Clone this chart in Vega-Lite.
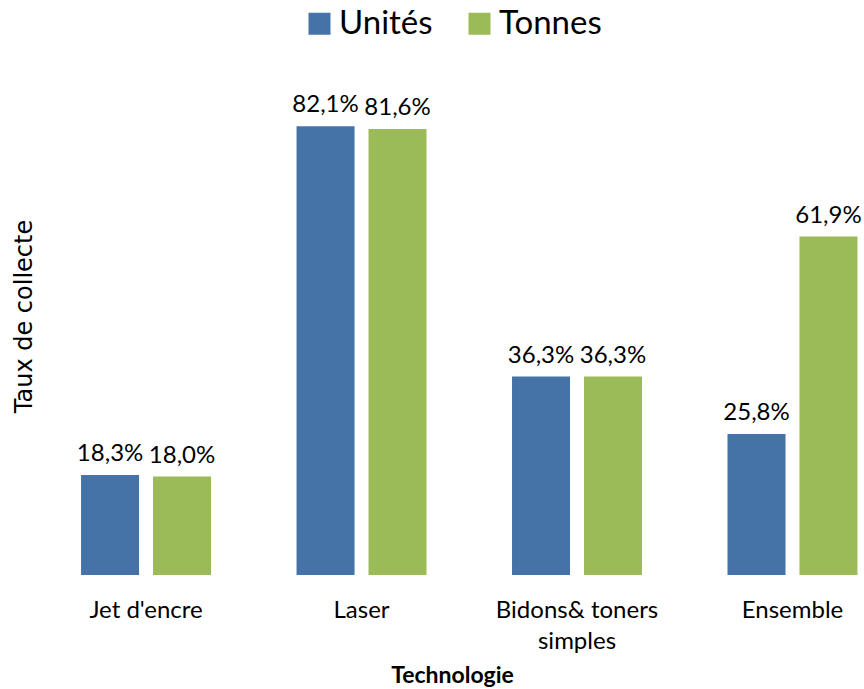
{
  "$schema": "https://vega.github.io/schema/vega-lite/v6.json",
  "width": 824,
  "height": 492,
  "autosize": {"type": "none"},
  "padding": {"left": 40, "top": 83, "right": 0, "bottom": 114},
  "background": "white",
  "data": {
    "values": [
      {"tech": "Jet d'encre", "serie": "Unités", "v": 0.183},
      {"tech": "Jet d'encre", "serie": "Tonnes", "v": 0.180},
      {"tech": "Laser", "serie": "Unités", "v": 0.821},
      {"tech": "Laser", "serie": "Tonnes", "v": 0.816},
      {"tech": "Bidons& toners\nsimples", "serie": "Unités", "v": 0.363},
      {"tech": "Bidons& toners\nsimples", "serie": "Tonnes", "v": 0.363},
      {"tech": "Ensemble", "serie": "Unités", "v": 0.258},
      {"tech": "Ensemble", "serie": "Tonnes", "v": 0.619}
    ]
  },
  "encoding": {
    "x": {
      "field": "tech",
      "type": "nominal",
      "sort": null,
      "title": "Technologie",
      "scale": {"paddingInner": 0.3968, "paddingOuter": 0.1104, "align": 0.863},
      "axis": {
        "ticks": false,
        "domain": false,
        "grid": false,
        "labelAngle": 0,
        "labelFont": "Lato",
        "labelFontSize": 24,
        "labelColor": "#000000",
        "labelPadding": 23,
        "labelLineHeight": 31,
        "labelLimit": 0,
        "labelExpr": "split(datum.label, '\\n')",
        "titleFont": "Lato",
        "titleFontSize": 23,
        "titleFontWeight": "bold",
        "titleColor": "#000000",
        "titlePadding": 11
      }
    },
    "xOffset": {
      "field": "serie",
      "type": "nominal",
      "sort": ["Unités", "Tonnes"],
      "scale": {"paddingInner": 0.194, "paddingOuter": 0}
    },
    "y": {
      "field": "v",
      "type": "quantitative",
      "title": "Taux de collecte",
      "scale": {"domain": [0, 0.9]},
      "axis": {
        "labels": false,
        "ticks": false,
        "domain": false,
        "grid": false,
        "minExtent": 0,
        "titleFont": "DejaVu Sans",
        "titleFontSize": 24,
        "titleFontWeight": "normal",
        "titleColor": "#000000",
        "titlePadding": 4,
        "titleY": 233
      }
    }
  },
  "layer": [
    {
      "mark": {"type": "bar"},
      "encoding": {
        "color": {
          "field": "serie",
          "type": "nominal",
          "sort": ["Unités", "Tonnes"],
          "scale": {"domain": ["Unités", "Tonnes"], "range": ["#4572A7", "#9BBB59"]},
          "legend": {
            "title": null,
            "orient": "none",
            "direction": "horizontal",
            "legendX": 263,
            "legendY": -76,
            "symbolType": "square",
            "symbolSize": 484,
            "symbolStrokeWidth": 0,
            "symbolOpacity": 1,
            "labelFont": "Lato",
            "labelFontSize": 33,
            "labelColor": "#000000",
            "labelOffset": 3,
            "columnPadding": 30,
            "labelLimit": 0
          }
        }
      }
    },
    {
      "mark": {"type": "text", "dy": -14, "font": "Lato", "fontSize": 24, "baseline": "alphabetic", "color": "#000000"},
      "encoding": {
        "text": {"field": "v", "type": "quantitative", "format": ".1%"}
      }
    }
  ],
  "config": {
    "view": {"stroke": null},
    "locale": {
      "number": {"decimal": ",", "thousands": " ", "grouping": [3], "currency": ["", " €"]}
    }
  }
}
